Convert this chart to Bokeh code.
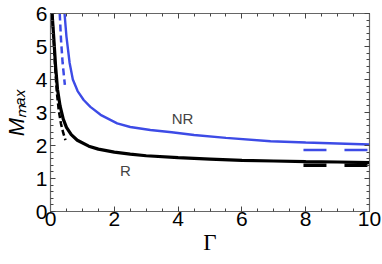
from bokeh.plotting import figure
from bokeh.models import LinearAxis, Label, Range1d, FixedTicker
from bokeh.embed import file_html
from bokeh.resources import INLINE

# ---- data ----
r_gamma = [0.05, 0.1, 0.16, 0.22, 0.3, 0.4, 0.5, 0.65, 0.84, 1.2, 1.5, 2.0, 2.5, 3.0, 4.0, 5.0, 6.0, 7.0, 8.0, 9.0, 10.0]
r_mmax = [6.0, 5.3, 4.4, 3.7, 3.2, 2.8, 2.55, 2.33, 2.16, 1.98, 1.89, 1.80, 1.74, 1.69, 1.63, 1.59, 1.55, 1.53, 1.51, 1.50, 1.48]

nr_gamma = [0.44, 0.5, 0.6, 0.7, 0.85, 1.04, 1.25, 1.57, 2.09, 2.5, 3.13, 3.8, 4.5, 5.5, 6.9, 8.0, 9.0, 10.0]
nr_mmax = [6.0, 5.3, 4.5, 4.0, 3.65, 3.38, 3.17, 2.93, 2.67, 2.56, 2.47, 2.40, 2.32, 2.23, 2.13, 2.09, 2.06, 2.03]

r_small_gamma = [0.05, 0.1, 0.15, 0.2, 0.26, 0.33, 0.4, 0.47]
r_small_mmax = [6.0, 5.2, 4.3, 3.6, 3.05, 2.65, 2.38, 2.16]

nr_small_gamma = [0.29, 0.33, 0.38, 0.45]
nr_small_mmax = [6.0, 5.2, 4.5, 3.84]

asym_gamma = [7.93, 10.0]
r_asym = [1.40, 1.40]
nr_asym = [1.86, 1.86]

x_ticks = [0, 2, 4, 6, 8, 10]
y_ticks = [0, 1, 2, 3, 4, 5, 6]

BLUE = "#3d4be6"
FONT = "Liberation Sans"

p = figure(width=382, height=264, output_backend="svg", toolbar_location=None,
           x_range=Range1d(0, 10), y_range=Range1d(0, 6),
           min_border_left=50, min_border_right=13, min_border_top=13, min_border_bottom=53,
           x_axis_location=None, y_axis_location=None)
p.grid.visible = False
p.outline_line_color = "#666666"
p.outline_line_width = 1.2
p.background_fill_color = "white"
p.border_fill_color = "white"

def style(ax, labels):
    ax.axis_line_color = "#666666"
    ax.major_tick_in = 5
    ax.major_tick_out = 0
    ax.minor_tick_in = 3
    ax.minor_tick_out = 0
    ax.major_tick_line_color = "#444444"
    ax.minor_tick_line_color = "#444444"
    ax.major_label_text_font = FONT
    ax.axis_label_text_color = "black"
    if labels:
        ax.major_label_text_color = "black"
        ax.major_label_text_font_size = "21px"
    else:
        ax.major_label_text_color = None
        ax.major_label_text_font_size = "1px"
        ax.major_label_standoff = 0

xminor = [i * 0.5 for i in range(21)]
yminor = [i * 0.2 for i in range(31)]

xb = LinearAxis(ticker=FixedTicker(ticks=x_ticks, minor_ticks=xminor))
style(xb, True)
xb.major_label_standoff = 0
xb.axis_label = "\u0393"
xb.axis_label_text_font = "Liberation Serif"
xb.axis_label_text_font_style = "normal"
xb.axis_label_text_font_size = "23px"
xb.axis_label_standoff = 1
p.add_layout(xb, "below")

xt = LinearAxis(ticker=FixedTicker(ticks=x_ticks, minor_ticks=xminor))
style(xt, False)
p.add_layout(xt, "above")

yl = LinearAxis(ticker=FixedTicker(ticks=y_ticks, minor_ticks=yminor))
style(yl, True)
yl.major_label_standoff = 3
yl.axis_label = "M\u2098\u2090\u2093"
yl.axis_label_text_font = FONT
yl.axis_label_text_font_style = "italic"
yl.axis_label_text_font_size = "22px"
yl.axis_label_standoff = 4
p.add_layout(yl, "left")

yr = LinearAxis(ticker=FixedTicker(ticks=y_ticks, minor_ticks=yminor))
style(yr, False)
p.add_layout(yr, "right")

p.line(nr_gamma, nr_mmax, line_color=BLUE, line_width=2.4)
p.line(r_small_gamma, r_small_mmax, line_color="black", line_width=2.5, line_dash="6 3")
p.line(r_gamma, r_mmax, line_color="black", line_width=3.2)
p.line(nr_small_gamma, nr_small_mmax, line_color=BLUE, line_width=2.5, line_dash="7 4")
p.line(asym_gamma, nr_asym, line_color=BLUE, line_width=2.5, line_dash="23 18")
p.line(asym_gamma, r_asym, line_color="black", line_width=3.4, line_dash="23 18")

p.add_layout(Label(x=4.14, y=2.83, text="NR", text_font=FONT, text_font_size="15px",
                   text_align="center", text_baseline="middle"))
p.add_layout(Label(x=2.35, y=1.25, text="R", text_font=FONT, text_font_size="15px",
                   text_align="center", text_baseline="middle"))

open("out.html", "w").write(file_html(p, INLINE))
